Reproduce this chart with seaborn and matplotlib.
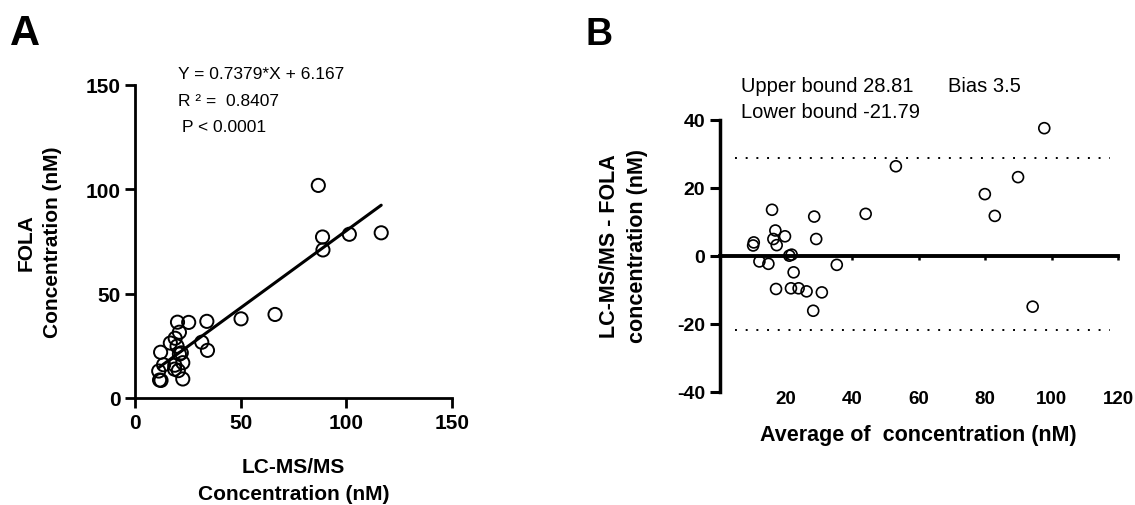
import matplotlib
matplotlib.use("Agg")
import matplotlib.pyplot as plt
import seaborn as sns

# ---- Panel A data (LC-MS/MS vs FOLA, nM) ----
lcms = [116.6, 66.3, 101.5, 89.0, 88.8, 86.8, 50.2, 34.0, 34.3, 31.6, 20.1, 25.4,
        21.0, 19.0, 16.7, 12.1, 19.9, 21.0, 21.9, 22.6, 20.5, 18.7, 18.8, 22.6,
        12.3, 11.6, 11.2, 13.5]
fola = [79.1, 40.0, 78.4, 70.9, 77.1, 101.8, 37.9, 36.7, 22.8, 26.7, 36.3, 36.2,
        31.5, 28.6, 26.3, 21.9, 24.8, 21.0, 21.6, 9.1, 13.1, 13.8, 15.7, 16.9,
        8.4, 8.6, 12.9, 15.9]

# ---- Panel B data (Bland-Altman) ----
avg_conc = [97.8, 53.1, 89.9, 79.9, 82.9, 94.3, 44.0, 35.3, 28.5, 29.1, 28.2, 30.8,
            26.2, 23.8, 21.5, 17.0, 22.3, 21.0, 21.7, 15.8, 16.8, 16.2, 17.2, 19.7,
            10.3, 10.1, 12.0, 14.7]
diff_conc = [37.5, 26.3, 23.1, 18.1, 11.7, -15.0, 12.3, -2.7, 11.5, 4.9, -16.2, -10.8,
             -10.5, -9.6, -9.6, -9.8, -4.9, 0.0, 0.3, 13.5, 7.4, 4.9, 3.1, 5.7,
             3.9, 3.0, -1.7, -2.4]
upper_bound = 28.81
lower_bound = -21.79

a_ticks = [0, 50, 100, 150]
b_xticks = [20, 40, 60, 80, 100, 120]
b_yticks = [-40, -20, 0, 20, 40]

sns.set_style("ticks")
plt.rcParams['font.family'] = ['Liberation Sans', 'DejaVu Sans']
plt.rcParams['font.weight'] = 'bold'
plt.rcParams['axes.labelweight'] = 'bold'
plt.rcParams['text.color'] = 'black'
plt.rcParams['axes.labelcolor'] = 'black'
plt.rcParams['xtick.color'] = 'black'
plt.rcParams['ytick.color'] = 'black'
plt.rcParams['axes.edgecolor'] = 'black'
plt.rcParams['axes.unicode_minus'] = False

fig = plt.figure(figsize=(11.35, 5.06), dpi=100)
axA = fig.add_axes([0.119, 0.2115, 0.279, 0.619])
axB = fig.add_axes([0.634, 0.224, 0.351, 0.5375])

# ---------------- Panel A ----------------
sns.scatterplot(x=lcms, y=fola, ax=axA, s=90, facecolor='none',
                edgecolor='black', linewidth=1.4, clip_on=False, zorder=3)
sns.regplot(x=lcms, y=fola, ax=axA, scatter=False, ci=None, truncate=True,
            line_kws=dict(color='black', lw=2.2))
axA.set_xlim(0, 150)
axA.set_ylim(0, 150)
axA.set_xticks(a_ticks)
axA.set_yticks(a_ticks)
for s in ['top', 'right']:
    axA.spines[s].set_visible(False)
for s in ['left', 'bottom']:
    axA.spines[s].set_linewidth(2)
axA.tick_params(direction='out', length=7, width=2, labelsize=15)
axA.set_xlabel("LC-MS/MS\nConcentration (nM)", fontsize=15, linespacing=1.5)
axA.set_ylabel("FOLA\nConcentration (nM)", fontsize=15, linespacing=1.5)
axA.xaxis.set_label_coords(0.5, -0.19)
axA.yaxis.set_label_coords(-0.23, 0.5)

fig.text(178 / 1135, 1 - 79 / 506, "Y = 0.7379*X + 6.167", fontsize=12.5,
         fontweight='normal', va='baseline')
fig.text(178 / 1135, 1 - 106 / 506, "R \u00b2 =  0.8407", fontsize=12.5,
         fontweight='normal', va='baseline')
fig.text(182 / 1135, 1 - 132 / 506, "P < 0.0001", fontsize=12.5,
         fontweight='normal', va='baseline')

# ---------------- Panel B ----------------
sns.scatterplot(x=avg_conc, y=diff_conc, ax=axB, s=62, facecolor='none',
                edgecolor='black', linewidth=1.2, zorder=3)
axB.hlines([upper_bound, lower_bound], 4.5, 117.5, colors='black',
           linestyles=(0, (1, 4.5)), lw=1.4)
axB.set_xlim(0, 120)
axB.set_ylim(-40, 40)
axB.set_xticks(b_xticks)
axB.set_yticks(b_yticks)
for s in ['top', 'right', 'bottom']:
    axB.spines[s].set_visible(False)
axB.spines['left'].set_linewidth(2.5)
axB.tick_params(axis='y', direction='out', length=7, width=2.2, labelsize=14)
axB.tick_params(axis='x', length=0, labelsize=13.5, pad=-1)
axB.set_xlabel("Average of  concentration (nM)", fontsize=15.5)
axB.set_ylabel("LC-MS/MS - FOLA\nconcentration (nM)", fontsize=15.5,
               linespacing=1.4)
axB.xaxis.set_label_coords(0.5, -0.12)
axB.yaxis.set_label_coords(-0.18, 0.54)

zero_ax = axB.secondary_xaxis(0.5)
zero_ax.set_alignment('bottom')
zero_ax.set_xticks(b_xticks)
zero_ax.tick_params(axis='x', direction='out', length=3, width=1.8,
                    labelbottom=False, labeltop=False)
zero_ax.spines['bottom'].set_linewidth(2.8)

fig.text(741 / 1135, 1 - 92 / 506, "Upper bound 28.81", fontsize=14.5,
         fontweight='normal', va='baseline')
fig.text(948 / 1135, 1 - 92 / 506, "Bias 3.5", fontsize=14.5,
         fontweight='normal', va='baseline')
fig.text(741 / 1135, 1 - 118 / 506, "Lower bound -21.79", fontsize=14.5,
         fontweight='normal', va='baseline')

# panel letters
fig.text(10 / 1135, 1 - 45 / 506, "A", fontsize=30, fontweight='bold', va='baseline')
fig.text(586 / 1135, 1 - 45 / 506, "B", fontsize=27, fontweight='bold', va='baseline')

fig.savefig("out.png", dpi=100)
